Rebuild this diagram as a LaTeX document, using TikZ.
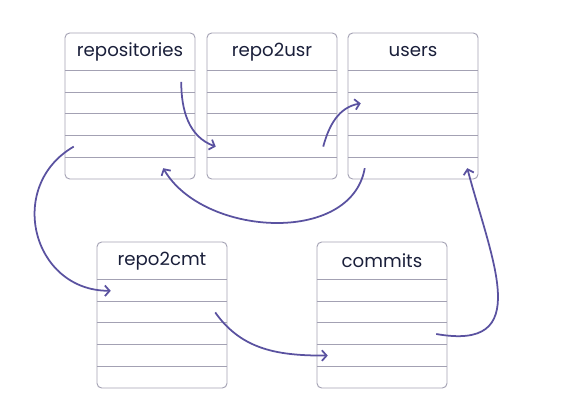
\documentclass[tikz,border=0pt]{standalone}
\usepackage{fontspec}
\setmainfont{Poppins}
\usetikzlibrary{arrows.meta}
\definecolor{linkc}{HTML}{5A52A0}
\definecolor{gridc}{HTML}{A3A1B3}
\definecolor{textc}{HTML}{1A1F3A}
\begin{document}
\begin{tikzpicture}[x=0.03cm,y=-0.03cm,
  tbl/.style={draw=gridc,line width=0.8pt,rounded corners=4pt},
  title/.style={text=textc,font=\fontsize{15.5}{18}\selectfont},
  row/.style={minimum width=3.9cm,minimum height=0.648cm,inner sep=0pt},
  link/.style={draw=linkc,line width=1.5pt,-{Straight Barb[length=4pt,width=9pt]}}]
  \useasboundingbox (0,0) rectangle (583,420);
  \foreach \n/\x/\y in {repositories/65/33,repo2usr/207/33,users/348/33,repo2cmt/97/242,commits/317/242}{
    \draw[tbl] (\x,\y) rectangle ++(130,146);
    \node[title] (\n) at (\x+65,\y+19) {\n};
    \foreach \i in {1,...,5}{
      \node[row] (\n-\i) at (\x+65,\y+27.2+21.6*\i) {};
      \draw[gridc,line width=0.8pt] (\n-\i.north west) -- (\n-\i.north east);
    }
  }
  \draw[link] ([xshift=-0.42cm]repositories-1.east) to[out=-90,in=160] ([xshift=0.27cm]repo2usr-4.west);
  \draw[link] ([xshift=-0.42cm]repo2usr-4.east) to[out=75,in=-170] ([xshift=0.39cm]users-2.west);
  \draw[link] ([xshift=0.51cm]users-5.west) to[out=-100,in=-60] ([xshift=-0.96cm]repositories-5.east);
  \draw[link] ([xshift=0.27cm]repositories-4.west) to[out=210,in=180,looseness=1.35] ([xshift=0.42cm]repo2cmt-1.west);
  \draw[link] ([xshift=-0.36cm]repo2cmt-2.east) to[out=-55,in=180] ([xshift=0.33cm]commits-4.west);
  \draw[link] ([xshift=-0.33cm]commits-3.east) to[out=-10,in=-75,looseness=1.5] ([xshift=-0.33cm]users-5.east);
\end{tikzpicture}
\end{document}
